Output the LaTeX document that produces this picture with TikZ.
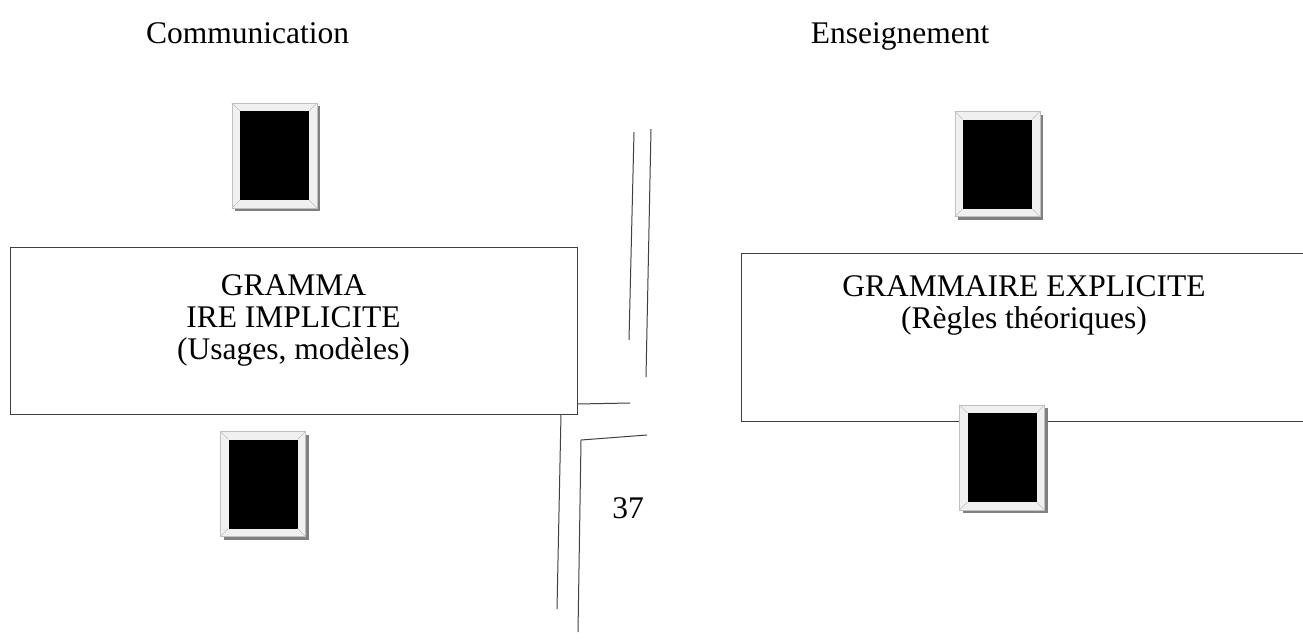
\documentclass[tikz,border=0pt]{standalone}
\usepackage{fontspec}
\setmainfont{Liberation Serif}
\definecolor{linegray}{HTML}{404040}
\definecolor{shadowgray}{HTML}{808080}
\definecolor{framegray}{HTML}{F0F0F0}
\definecolor{bevelgray}{HTML}{C0C0C0}
\begin{document}
\begin{tikzpicture}[x=1pt,y=-1pt,
  txt/.style={font=\fontsize{31.5}{32.5}\selectfont, inner sep=0pt, anchor=base},
  bigbox/.style={draw=linegray, line width=1.2pt, inner sep=0pt, anchor=north west},
  conn/.style={draw=linegray, line width=1pt},
  frame/.style={fill=framegray, draw=bevelgray, line width=0.6pt, minimum width=85pt, minimum height=105pt, inner sep=0pt},
  hole/.style={fill=black, minimum width=69pt, minimum height=89pt, inner sep=0pt},
  bevel/.style={draw=bevelgray, line width=0.6pt},
  shade/.style={fill=shadowgray}]
\useasboundingbox (0,0) rectangle (1303,640);
\fill[white] (0,0) rectangle (1303,640);

% titles
\node[txt] (tcom) at (247.5,43) {Communication};
\node[txt] (tens) at (900,43) {Enseignement};

% big boxes
\node[bigbox, minimum width=567pt, minimum height=167pt] (lbox) at (10,247) {};
\node[bigbox, minimum width=566pt, minimum height=168pt] (rbox) at (741,253) {};

\node[txt] (l1) at (293.5,295) {GRAMMA};
\node[txt] (l2) at (293.5,327) {IRE IMPLICITE};
\node[txt] (l3) at (293.5,359) {(Usages, modèles)};
\node[txt] (r1) at (1024,296) {GRAMMAIRE EXPLICITE};
\node[txt] (r2) at (1024,328) {(Règles théoriques)};

% picture frames
\foreach \n/\cx/\cy in {f1/274.5/155.5, f2/263/484, f3/997.5/164, f4/1002/457.5}{
  \fill[shade] (\cx-42.5+3,\cy-52.5+3) rectangle (\cx+42.5+3,\cy+52.5+3);
  \node[frame] (\n) at (\cx,\cy) {};
  \node[hole] (\n i) at (\cx,\cy) {};
  \draw[bevel] (\n.north west) -- (\n i.north west);
  \draw[bevel] (\n.north east) -- (\n i.north east);
  \draw[bevel] (\n.south west) -- (\n i.south west);
  \draw[bevel] (\n.south east) -- (\n i.south east);
}

% free lines
\coordinate (a1) at (634,132); \coordinate (a2) at (629,340);
\coordinate (b1) at (651,129); \coordinate (b2) at (646,377);
\coordinate (c1) at (577,404); \coordinate (c2) at (630,403);
\coordinate (d1) at (647,435); \coordinate (d2) at (581,440); \coordinate (d3) at (578,632);
\coordinate (e1) at (561,414); \coordinate (e2) at (557,609);
\draw[conn] (a1) -- (a2);
\draw[conn] (b1) -- (b2);
\draw[conn] (c1) -- (c2);
\draw[conn] (d1) -- (d2) -- (d3);
\draw[conn] (e1) -- (e2);

\node[txt] (num) at (628,518.5) {37};
\end{tikzpicture}
\end{document}
